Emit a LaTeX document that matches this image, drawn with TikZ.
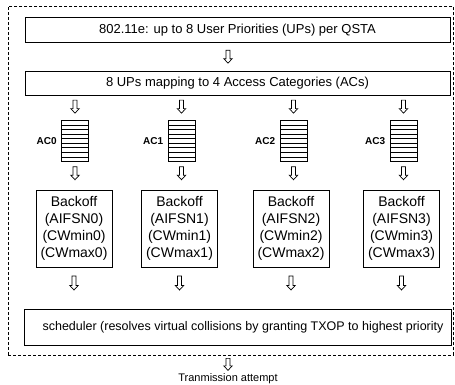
\documentclass[tikz,border=0pt]{standalone}
\usepackage{fontspec}
\setmainfont{Liberation Sans}
\usetikzlibrary{calc}
\begin{document}
\begin{tikzpicture}[x=1pt,y=-1pt,
  line width=0.7pt,
  box/.style={draw=black, line width=0.8pt, inner sep=0pt, align=center},
  widebox/.style={box, minimum width=425pt, font=\fontsize{13}{15.6}\selectfont},
  bkbox/.style={box, minimum width=76pt, minimum height=77pt, font=\fontsize{14}{17.1}\selectfont},
  queue/.style={draw=black, line width=0.8pt, minimum width=27pt, minimum height=41pt, inner sep=0pt,
    path picture={\foreach \i in {1,...,8}{\draw[line width=0.8pt]
      ($(path picture bounding box.north west)!\i/9!(path picture bounding box.south west)$) --
      ($(path picture bounding box.north east)!\i/9!(path picture bounding box.south east)$);}}},
  aclabel/.style={font=\fontsize{10}{12}\selectfont\bfseries, inner sep=0pt, anchor=east},
  blkup/.store in=\blkup, blkup=0pt,
  blk/.style={to path={let \p1=(\tikztostart), \p2=(\tikztotarget), \n1={0.5*\y1+0.5*\y2+\blkup} in
    (\x1-2pt,\n1+#1/2) -- (\x1-2pt,\n1-#1/2+4.5pt) -- (\x1-4.2pt,\n1-#1/2+4.5pt) --
    (\x1,\n1-#1/2) -- (\x1+4.2pt,\n1-#1/2+4.5pt) -- (\x1+2pt,\n1-#1/2+4.5pt) --
    (\x1+2pt,\n1+#1/2) -- cycle}},
  blk/.default=13pt
]
\useasboundingbox (0,0) rectangle (455,384);

\node[draw=black, dash pattern=on 3pt off 2pt, line width=0.7pt, minimum width=445pt, minimum height=349pt,
  inner sep=0pt, anchor=north west] (frame) at (8,6) {};

\node[widebox, minimum height=24.5pt] (top) at (237.5,29.8) {802.11e: up to 8 User Priorities (UPs) per QSTA};
\node[widebox, minimum height=24.5pt] (map) at (237.5,83.5) {8 UPs mapping to 4 Access Categories (ACs)};

\node[queue] (q0) at (75,141) {};
\node[queue] (q1) at (181.5,141) {};
\node[queue] (q2) at (293.5,141) {};
\node[queue] (q3) at (403.5,141) {};
\node[aclabel] (l0) at ([xshift=-4pt]q0.west) {AC0};
\node[aclabel] (l1) at ([xshift=-4pt]q1.west) {AC1};
\node[aclabel] (l2) at ([xshift=-4pt]q2.west) {AC2};
\node[aclabel] (l3) at ([xshift=-4pt]q3.west) {AC3};

\node[bkbox] (b0) at (74,228.5) {Backoff\\(AIFSN0)\\(CWmin0)\\(CWmax0)};
\node[bkbox] (b1) at (179.5,228.5) {Backoff\\(AIFSN1)\\(CWmin1)\\(CWmax1)};
\node[bkbox] (b2) at (291,228.5) {Backoff\\(AIFSN2)\\(CWmin2)\\(CWmax2)};
\node[bkbox] (b3) at (401.5,228.5) {Backoff\\(AIFSN3)\\(CWmin3)\\(CWmax3)};

\node[box, minimum width=427pt, minimum height=36pt, font=\fontsize{12.5}{15}\selectfont] (sch) at (237.5,327)
  {\hspace*{11pt}scheduler (resolves virtual collisions by granting TXOP to highest priority};

\node[font=\fontsize{11}{13}\selectfont, inner sep=0pt, anchor=north] (tx) at (228,373) {Tranmission attempt};

\draw[blk] (top.south -| tx.north) to (map.north -| tx.north);
\foreach \i in {0,1,2,3}{
  \draw[blk, blkup=1.5pt] (map.south -| q\i.north) to (q\i.north);
  \draw[blk, blkup=2.5pt] (q\i.south) to (b\i.north);
  \draw[blk=14pt, blkup=5pt] (b\i.south) to (b\i.south |- sch.north);
}
\draw[blk=12pt] (frame.south -| tx.north) to (tx.north);
\end{tikzpicture}
\end{document}
